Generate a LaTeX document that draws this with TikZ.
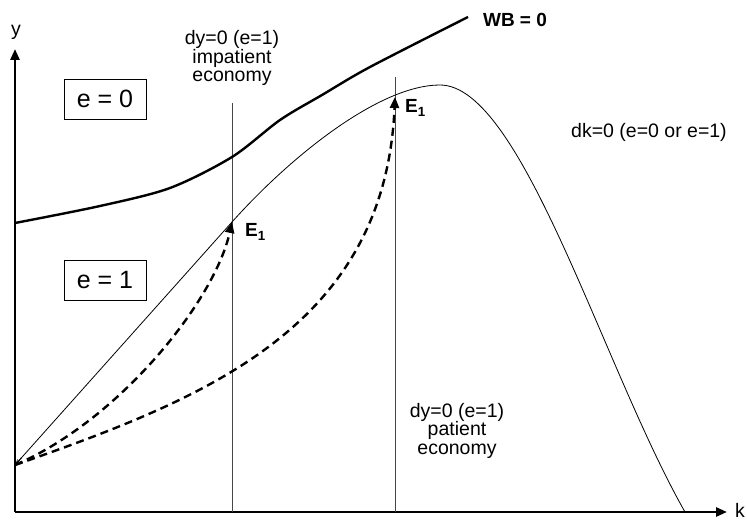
\documentclass[tikz,border=0pt]{standalone}
\usepackage{fontspec}
\setmainfont{Liberation Sans}
\usepackage{tikz}
\usetikzlibrary{arrows.meta, positioning, calc}
\definecolor{vgray}{RGB}{70,70,70}

\begin{document}
\begin{tikzpicture}[
        x=1pt, y=-1pt,
        axis/.style={line width=2.6pt, -{Triangle[length=11pt,width=9pt]}},
        wbline/.style={line width=2.4pt},
        dkline/.style={line width=0.8pt},
        vline/.style={vgray, line width=0.8pt},
        pathline/.style={line width=2.4pt, dash pattern=on 8pt off 5pt,
                         -{Triangle[length=11pt,width=9pt]}},
        lbl/.style={font=\fontsize{19.5}{18.5}\selectfont, align=center, inner sep=0pt},
        regionbox/.style={draw, line width=0.8pt, minimum width=82pt, minimum height=40pt,
                          inner sep=0pt, font=\fontsize{25}{28}\selectfont},
        eqlbl/.style={font=\fontsize{19}{19}\selectfont\bfseries, inner sep=0pt, anchor=base west}
      ]
        \useasboundingbox (0,0) rectangle (747,521);
        % Points
        \coordinate (orig) at (15,512);
        \coordinate (ytop) at (15,49);
        \coordinate (xend) at (727,512);
        \coordinate (start) at (15,465);
        \coordinate (ea) at (232,222);
        \coordinate (eb) at (395,97);
        \coordinate (peak) at (440,85);
        \coordinate (kend) at (685,512);
        \coordinate (vta) at (232,103);
        \coordinate (vtb) at (395,77);
        % Axes
        \draw[axis] (orig) -- (ytop);
        \draw[axis] (orig) -- (xend);
        \node[lbl] (ylab) at (16,32) {y};
        \node[lbl] (klab) at (740,510) {k};
        % dy=0 lines
        \draw[vline] (vta) -- (vta |- orig);
        \draw[vline] (vtb) -- (vtb |- orig);
        % dk=0 curve
        \draw[dkline] (ea) -- (start);
        \draw[dkline, {Stealth[length=6pt,width=4pt]}-] (start) -- ($(start)!10pt!(ea)$);
        \draw[dkline] (ea) .. controls (292,155) and (380,85) .. (peak)
                      .. controls (522,85) and (603,368) .. (kend);
        % WB = 0 curve
        \draw[wbline] plot[smooth] coordinates {(15,223) (100,206) (170,188)
                      (232,157) (280,120) (322,95) (370,67) (468,17)};
        % Paths
        \draw[pathline] (start) .. controls (120,420) and (215,300) .. (ea);
        \draw[pathline] (start) .. controls (200,400) and (385,330) .. (eb);
        % Labels
        \node[lbl, font=\fontsize{19}{19}\selectfont\bfseries] (wblab) at (515,20) {WB = 0};
        \node[lbl] (implab) at (232,58) {dy=0 (e=1)\\impatient\\economy};
        \node[lbl, anchor=north] (patlab) at (457,403) {dy=0 (e=1)\\patient\\economy};
        \node[lbl, anchor=north west] (dklab) at (571,123) {dk=0 (e=0 or e=1)};
        \node[regionbox] (ezero) at (105,99) {e = 0};
        \node[regionbox] (eone) at (105,280) {e = 1};
        \node[eqlbl] (ealab) at (245,237) {E\textsubscript{1}};
        \node[eqlbl] (eblab) at (405,113) {E\textsubscript{1}};
      \end{tikzpicture}
\end{document}
